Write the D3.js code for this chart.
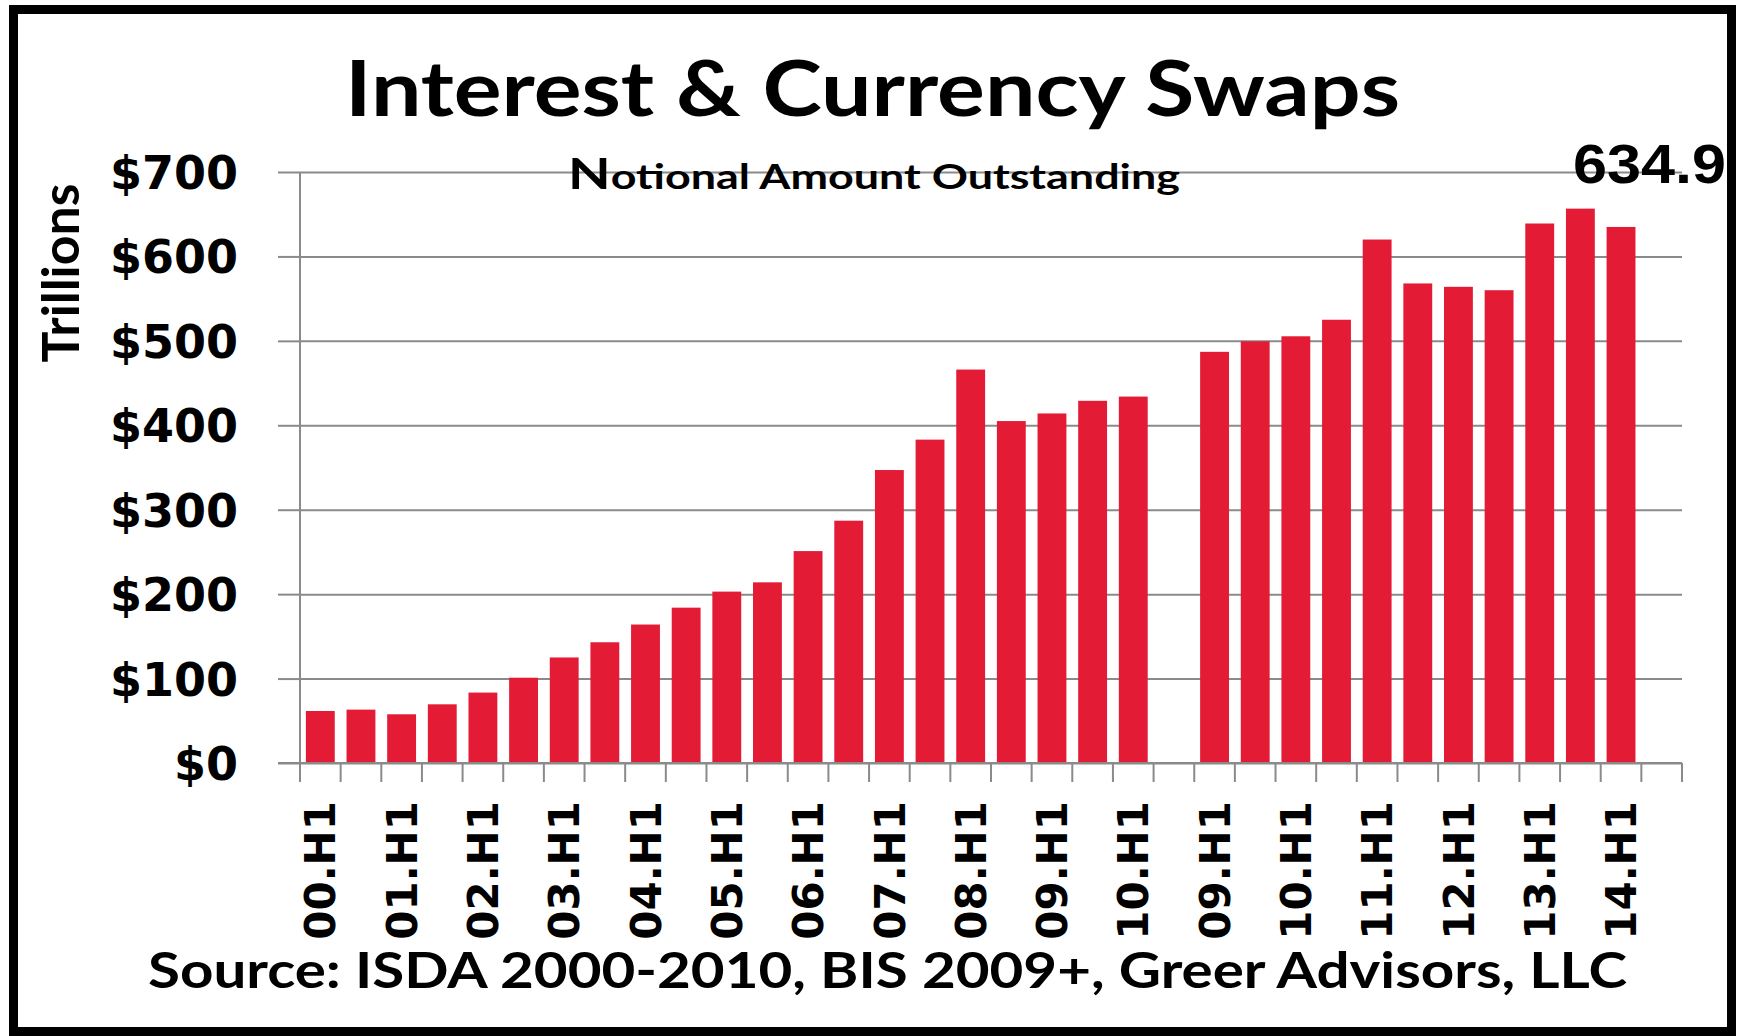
<!DOCTYPE html>
<html>
<head>
<meta charset="utf-8">
<script src="https://cdn.jsdelivr.net/npm/d3@7"></script>
<style>
  body { margin: 0; background: #fff; }
  svg { display: block; }
</style>
</head>
<body>
<svg id="chart" width="1741" height="1036"></svg>
<script>
// half-year periods, ISDA 2000-2010 then a blank slot, then BIS 2009+
var periods = ["00.H1","00.H2","01.H1","01.H2","02.H1","02.H2","03.H1","03.H2",
               "04.H1","04.H2","05.H1","05.H2","06.H1","06.H2","07.H1","07.H2",
               "08.H1","08.H2","09.H1","09.H2","10.H1","",
               "09.H1","09.H2","10.H1","10.H2","11.H1","11.H2","12.H1","12.H2",
               "13.H1","13.H2","14.H1",""];
// notional outstanding, $ trillions
var notional = [61.6, 63.2, 57.7, 69.5, 83.4, 101, 125, 143,
                164, 184, 203, 214, 251, 287, 347, 383,
                466, 405, 414, 429, 434, null,
                487, 499.5, 505.4, 525, 620, 568, 564, 560,
                639, 656.6, 634.9, null];
var yTicks = [0, 100, 200, 300, 400, 500, 600, 700];
var lastLabel = "634.9";

var svg = d3.select("#chart");

// outer black frame
svg.append("rect")
    .attr("x", 13.5).attr("y", 9.5)
    .attr("width", 1718).attr("height", 1022)
    .attr("fill", "#fff")
    .attr("stroke", "#000")
    .attr("stroke-width", 9);

var pLeft = 300, pRight = 1682, pTop = 172, pBottom = 763;
var W = pRight - pLeft;

var x = d3.scaleBand()
    .domain(d3.range(periods.length))
    .range([pLeft, pRight])
    .paddingInner(0.29)
    .paddingOuter(0.145);

var y = d3.scaleLinear()
    .domain([0, 700])
    .range([pBottom, pTop]);

var gridColor = "#8a8a8a";

// gridlines
var grid = svg.append("g")
    .attr("transform", "translate(" + pLeft + ",0)")
    .call(d3.axisLeft(y).tickValues(yTicks).tickSize(-W).tickFormat(""));
grid.select(".domain").remove();
grid.selectAll("line").attr("stroke", gridColor).attr("stroke-width", 2);

// y axis ticks + labels
var yAxis = svg.append("g")
    .attr("transform", "translate(" + pLeft + ",0)")
    .call(d3.axisLeft(y).tickValues(yTicks).tickSize(22).tickPadding(40)
          .tickFormat(function(d) { return "$" + d; }));
yAxis.select(".domain").remove();
yAxis.selectAll("line").attr("stroke", gridColor).attr("stroke-width", 2);
yAxis.selectAll("text")
    .attr("fill", "#000")
    .style("font-family", "'DejaVu Sans', Verdana, sans-serif")
    .style("font-weight", "bold")
    .style("font-size", "46px")
    .attr("dy", "0.36em");

// bars
svg.append("g").selectAll("rect")
    .data(notional.map(function(v, i) { return {i: i, v: v}; }).filter(function(d) { return d.v != null; }))
    .enter().append("rect")
    .attr("x", function(d) { return x(d.i); })
    .attr("y", function(d) { return y(d.v); })
    .attr("width", x.bandwidth())
    .attr("height", function(d) { return y(0) - y(d.v); })
    .attr("fill", "#e31b35");

// axis lines
svg.append("line")
    .attr("x1", pLeft).attr("x2", pLeft)
    .attr("y1", pTop).attr("y2", pBottom + 19)
    .attr("stroke", gridColor).attr("stroke-width", 2);
svg.append("line")
    .attr("x1", pLeft - 22).attr("x2", pRight)
    .attr("y1", pBottom).attr("y2", pBottom)
    .attr("stroke", gridColor).attr("stroke-width", 2);

// x ticks at category boundaries
var step = x.step();
var bounds = d3.range(periods.length + 1).map(function(i) {
    return i < periods.length ? x(i) - step * x.paddingInner() / 2 : pRight;
});
svg.append("g").selectAll("line")
    .data(bounds)
    .enter().append("line")
    .attr("x1", function(d) { return d; }).attr("x2", function(d) { return d; })
    .attr("y1", pBottom).attr("y2", pBottom + 19)
    .attr("stroke", gridColor).attr("stroke-width", 2);

// x labels, every H1 period, rotated
var xAxis = svg.append("g")
    .attr("transform", "translate(0," + pBottom + ")")
    .call(d3.axisBottom(x)
          .tickValues(d3.range(periods.length).filter(function(i) { return /H1$/.test(periods[i]); }))
          .tickSize(0)
          .tickFormat(function(i) { return periods[i]; }));
xAxis.select(".domain").remove();
xAxis.selectAll("text")
    .attr("fill", "#000")
    .style("font-family", "'DejaVu Sans', Verdana, sans-serif")
    .style("font-weight", "bold")
    .style("font-size", "42px")
    .attr("text-anchor", "end")
    .attr("transform", "translate(0,38) rotate(-90)")
    .attr("x", 0).attr("y", 0)
    .attr("dy", "0.36em");

var calib = "Lato, 'Open Sans', sans-serif";

// title
svg.append("text")
    .attr("x", 345).attr("y", 116)
    .attr("textLength", 1055).attr("lengthAdjust", "spacingAndGlyphs")
    .style("font-family", calib).style("font-weight", "bold").style("font-size", "76px")
    .text("Interest & Currency Swaps");

// subtitle
var sub = svg.append("text")
    .attr("x", 568).attr("y", 189)
    .attr("textLength", 612).attr("lengthAdjust", "spacingAndGlyphs")
    .style("font-family", calib).style("font-weight", "bold").style("font-size", "34px");
sub.append("tspan").style("font-size", "42px").text("N");
sub.append("tspan").text("otional Amount Outstanding");

// y axis title
svg.append("text")
    .attr("transform", "translate(79,273) rotate(-90)")
    .attr("text-anchor", "middle")
    .attr("textLength", 179).attr("lengthAdjust", "spacingAndGlyphs")
    .style("font-family", calib).style("font-weight", "bold").style("font-size", "52px")
    .text("Trillions");

// last value label
svg.append("text")
    .attr("x", 1573).attr("y", 183)
    .attr("textLength", 153).attr("lengthAdjust", "spacingAndGlyphs")
    .style("font-family", "'Liberation Sans', Arial, sans-serif").style("font-weight", "bold").style("font-size", "56px")
    .text(lastLabel);

// source
svg.append("text")
    .attr("x", 148).attr("y", 988)
    .attr("textLength", 1479).attr("lengthAdjust", "spacingAndGlyphs")
    .style("font-family", calib).style("font-weight", "bold").style("font-size", "50px")
    .text("Source: ISDA 2000-2010, BIS 2009+, Greer Advisors, LLC");
</script>
</body>
</html>
